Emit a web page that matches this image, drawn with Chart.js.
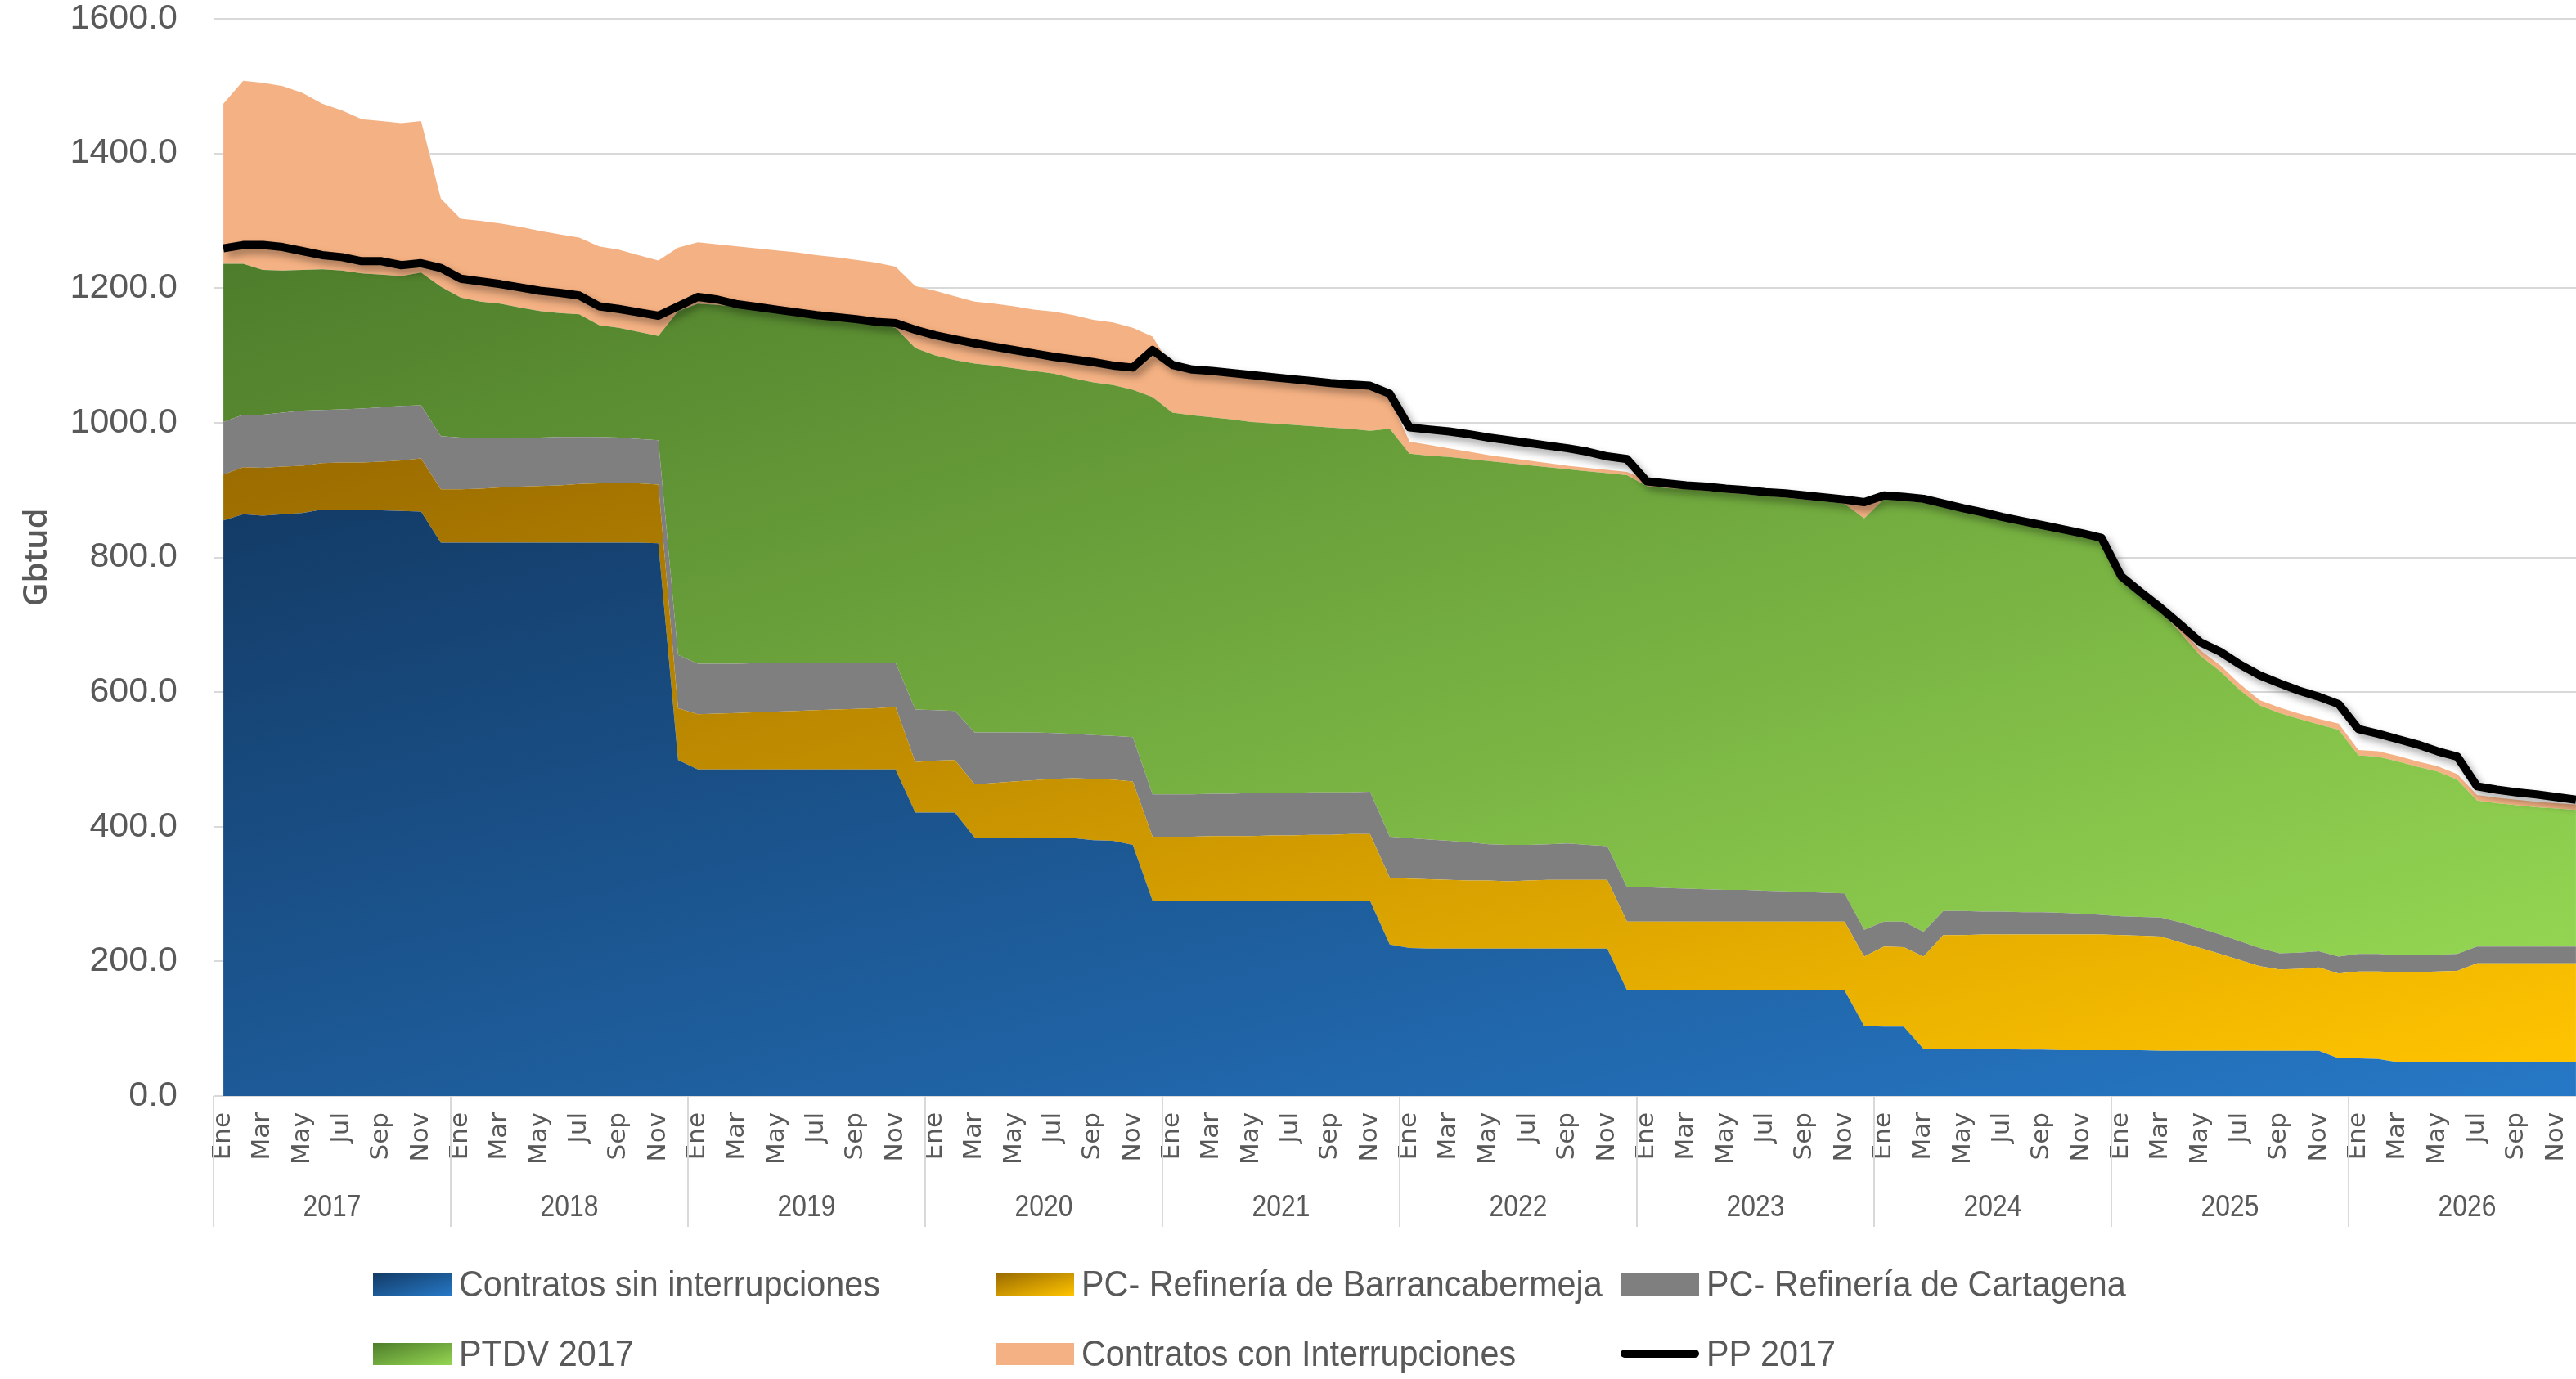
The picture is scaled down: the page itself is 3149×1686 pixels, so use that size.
<!DOCTYPE html>
<html>
<head>
<meta charset="utf-8">
<script src="https://cdn.jsdelivr.net/npm/chart.js@4.4.0/dist/chart.umd.min.js"></script>
<style>
  html, body { margin: 0; padding: 0; overflow: hidden; background: #fff; }
  #wrap { position: relative; width: 3161px; height: 1686px; }
  #legend { position: absolute; left: 0; top: 0; width: 100%; height: 100%; pointer-events: none;
            font-family: 'Liberation Sans Narrow', 'Liberation Sans', sans-serif; font-size: 44px; color: #595959; }
  .item { position: absolute; display: flex; align-items: center; height: 50px; white-space: nowrap; }
  .swatch { width: 96px; height: 27px; margin-right: 9px; flex: none; }
  .lineSw { width: 96px; height: 10px; margin-right: 9px; background: #000; border-radius: 5px; flex: none; }
  .item span { display: inline-block; transform: scaleX(0.94); transform-origin: left center; }
</style>
</head>
<body>
<div id="wrap"><canvas id="chart"></canvas><div id="legend"></div></div>
<script>
// Categories
const years = ['2017', '2018', '2019', '2020', '2021', '2022', '2023', '2024', '2025', '2026'];
const months = ['Ene', 'Feb', 'Mar', 'Abr', 'May', 'Jun', 'Jul', 'Ago', 'Sep', 'Oct', 'Nov', 'Dic'];
const yTicks = [0, 200, 400, 600, 800, 1000, 1200, 1400, 1600];

// Series (Gbtud), one row per year
const contratosSin = [
  855, 864, 862, 864, 866, 871, 871, 870, 870, 869, 868, 822,
  822, 822, 822, 822, 822, 822, 822, 822, 822, 822, 821, 499,
  485, 485, 485, 485, 485, 485, 485, 485, 485, 485, 485, 421,
  421, 421, 384, 384, 384, 384, 384, 383, 380, 379, 373, 290,
  290, 290, 290, 290, 290, 290, 290, 290, 290, 290, 290, 225,
  220, 219, 219, 219, 219, 219, 219, 219, 219, 219, 219, 157,
  157, 157, 157, 157, 157, 157, 157, 157, 157, 157, 157, 104,
  103, 103, 70, 70, 70, 70, 70, 69, 69, 68, 68, 68,
  68, 68, 67, 67, 67, 67, 67, 67, 67, 67, 67, 56,
  56, 55, 50, 50, 50, 50, 50, 50, 50, 50, 50, 50
];
const refBarranca = [
  68, 70, 71, 71, 70, 69, 70, 71, 72, 75, 79, 79,
  79, 80, 82, 83, 84, 85, 87, 88, 89, 88, 87, 77,
  82, 83, 84, 85, 86, 87, 88, 89, 90, 91, 93, 75,
  77, 78, 79, 81, 83, 85, 87, 89, 91, 91, 94, 95,
  95, 95, 96, 96, 96, 97, 97, 98, 98, 99, 99, 99,
  103, 103, 102, 101, 101, 100, 101, 102, 102, 102, 102, 102,
  102, 102, 102, 102, 102, 102, 102, 102, 102, 102, 102, 103,
  119, 118, 137, 169, 169, 170, 170, 171, 171, 172, 172, 172,
  171, 170, 170, 161, 153, 144, 135, 126, 121, 122, 124, 126,
  129, 130, 134, 134, 135, 136, 147, 147, 147, 147, 147, 147
];
const refCartagena = [
  78, 78, 79, 80, 82, 79, 79, 80, 81, 81, 79, 79,
  77, 76, 74, 73, 72, 72, 70, 69, 67, 66, 66, 79,
  75, 74, 73, 73, 72, 71, 70, 70, 69, 68, 66, 78,
  75, 73, 77, 75, 73, 71, 68, 66, 65, 65, 66, 63,
  63, 63, 63, 63, 64, 63, 63, 63, 63, 62, 63, 61,
  60, 59, 58, 57, 54, 54, 53, 53, 54, 52, 50, 51,
  51, 50, 49, 48, 47, 47, 46, 45, 44, 43, 42, 40,
  37, 38, 37, 36, 36, 34, 34, 33, 33, 32, 31, 29,
  28, 28, 28, 30, 29, 29, 28, 27, 24, 24, 24, 25,
  26, 26, 25, 25, 25, 25, 25, 25, 25, 25, 25, 25
];
const ptdv2017 = [
  235, 224, 215, 211, 209, 209, 206, 201, 197, 193, 197, 222,
  208, 202, 199, 193, 188, 184, 182, 166, 163, 159, 155, 511,
  535, 533, 530, 526, 523, 520, 515, 510, 507, 503, 497, 537,
  527, 521, 548, 545, 541, 537, 534, 528, 524, 521, 516, 590,
  567, 563, 559, 556, 551, 549, 547, 544, 542, 540, 536, 606,
  571, 570, 570, 569, 569, 567, 564, 560, 556, 555, 554, 612,
  596, 594, 593, 592, 590, 588, 586, 585, 583, 581, 579, 611,
  628, 625, 637, 599, 593, 588, 581, 576, 570, 565, 560, 555,
  498, 476, 455, 430, 405, 391, 373, 360, 357, 347, 337, 337,
  295, 293, 288, 280, 272, 259, 217, 213, 210, 207, 205, 203
];
const contratosCon = [
  238, 272, 278, 274, 263, 246, 238, 229, 228, 227, 225, 131,
  117, 120, 119, 120, 119, 117, 114, 117, 116, 114, 112, 94,
  91, 90, 90, 90, 90, 90, 91, 92, 91, 91, 91, 92,
  96, 95, 92, 92, 92, 91, 92, 94, 93, 93, 92, 90,
  65, 63, 64, 64, 66, 65, 64, 63, 62, 62, 63, 46,
  18, 16, 13, 11, 9, 8, 7, 6, 5, 5, 5, 5,
  9, 9, 8, 8, 8, 8, 8, 8, 8, 8, 8, 20,
  7, 7, 7, 7, 7, 7, 7, 7, 7, 7, 7, 7,
  5, 6, 7, 7, 8, 9, 9, 8, 8, 8, 8, 9,
  8, 8, 8, 8, 8, 8, 8, 8, 8, 8, 8, 8
];
const pp2017 = [
  1259, 1264, 1264, 1261, 1255, 1249, 1246, 1240, 1240, 1234, 1237, 1230,
  1214, 1210, 1206, 1201, 1196, 1193, 1189, 1173, 1169, 1164, 1159, 1173,
  1187, 1183, 1176, 1172, 1168, 1164, 1160, 1157, 1154, 1150, 1148, 1138,
  1130, 1124, 1118, 1113, 1108, 1103, 1098, 1094, 1090, 1085, 1082, 1108,
  1086, 1079, 1077, 1074, 1071, 1068, 1065, 1062, 1059, 1057, 1055, 1043,
  993, 990, 987, 983, 978, 974, 970, 966, 962, 957, 950, 946,
  913, 910, 907, 905, 902, 900, 897, 895, 892, 889, 886, 882,
  892, 890, 887, 880, 873, 867, 860, 854, 848, 842, 836, 829,
  772, 748, 725, 700, 674, 660, 641, 625, 613, 602, 593, 582,
  545, 538, 530, 522, 512, 504, 460, 455, 451, 448, 444, 440
];

const labels = years.flatMap(() => months);
const stackSeries = [contratosSin, refBarranca, refCartagena, ptdv2017, contratosCon];

// running totals, used only to place each area's gradient
const lower = [], upper = [];
stackSeries.forEach((s, i) => {
  lower[i] = i === 0 ? s.map(() => 0) : upper[i - 1];
  upper[i] = s.map((v, k) => v + lower[i][k]);
});

const textGray = '#595959';
const narrow = "'Liberation Sans Narrow', 'Liberation Sans', sans-serif";

// Excel-like diagonal gradient over the area's bounding box
function diagFill(idx, c0, c1) {
  return function(context) {
    const chart = context.chart;
    const area = chart.chartArea;
    const y = chart.scales.y;
    if (!area || !y) return c1;
    const top = y.getPixelForValue(Math.max(...upper[idx]));
    const bot = y.getPixelForValue(Math.min(...lower[idx]));
    const L = area.left, W = area.width, H = Math.max(bot - top, 1);
    const a = 1 / (2 * W), b = 1 / (2 * H), d = a * a + b * b;
    const g = chart.ctx.createLinearGradient(L, top, L + a / d, top + b / d);
    g.addColorStop(0, c0);
    g.addColorStop(1, c1);
    return g;
  };
}

const areaStyles = [
  { name: 'Contratos sin interrupciones', c0: '#133b66', c1: '#2678c6' },
  { name: 'PC- Refinería de Barrancabermeja', c0: '#9a6b00', c1: '#ffc400' },
  { name: 'PC- Refinería de Cartagena', c0: '#7f7f7f', c1: '#7f7f7f' },
  { name: 'PTDV 2017', c0: '#4e7d2b', c1: '#94d652' },
  { name: 'Contratos con Interrupciones', c0: '#f4b183', c1: '#f4b183' }
];

const datasets = stackSeries.map((s, i) => ({
  label: areaStyles[i].name,
  data: s,
  fill: i === 0 ? 'origin' : '-1',
  backgroundColor: diagFill(i, areaStyles[i].c0, areaStyles[i].c1),
  borderWidth: 0,
  pointRadius: 0,
  tension: 0
}));
datasets.push({
  label: 'PP 2017',
  data: pp2017,
  stack: 'pp',
  order: -1,
  fill: false,
  borderColor: '#000',
  borderWidth: 10,
  borderJoinStyle: 'round',
  pointRadius: 0,
  tension: 0
});

// soft shadow under the PP line
const lineShadow = {
  id: 'lineShadow',
  beforeDatasetDraw(chart, args) {
    if (args.index !== 5) return;
    const ctx = chart.ctx;
    ctx.save();
    ctx.shadowColor = 'rgba(0,0,0,0.35)';
    ctx.shadowBlur = 10;
    ctx.shadowOffsetX = 5;
    ctx.shadowOffsetY = 6;
  },
  afterDatasetDraw(chart, args) {
    if (args.index === 5) chart.ctx.restore();
  }
};

// second level of the category axis: years with separators
const yearAxis = {
  id: 'yearAxis',
  afterDraw(chart) {
    const x = chart.scales.x;
    const ctx = chart.ctx;
    const band = x.getPixelForValue(1) - x.getPixelForValue(0);
    const base = chart.chartArea.bottom;
    ctx.save();
    ctx.strokeStyle = '#d9d9d9';
    ctx.lineWidth = 2;
    ctx.fillStyle = textGray;
    ctx.font = '37px ' + narrow;
    ctx.textAlign = 'center';
    ctx.textBaseline = 'middle';
    years.forEach((yr, k) => {
      const x0 = x.getPixelForValue(k * 12) - band / 2;
      const x1 = x.getPixelForValue(k * 12 + 11) + band / 2;
      ctx.beginPath();
      ctx.moveTo(x0, base);
      ctx.lineTo(x0, base + 160);
      ctx.stroke();
      ctx.save();
      ctx.translate((x0 + x1) / 2, base + 137);
      ctx.scale(0.86, 1);
      ctx.fillText(yr, 0, 0);
      ctx.restore();
    });
    ctx.restore();
  }
};

new Chart(document.getElementById('chart'), {
  type: 'line',
  data: { labels, datasets },
  plugins: [lineShadow, yearAxis],
  options: {
    responsive: true,
    maintainAspectRatio: false,
    animation: false,
    layout: { padding: { top: 23, left: 0, right: 0, bottom: 0 } },
    plugins: {
      legend: { display: false },
      tooltip: { enabled: false }
    },
    scales: {
      x: {
        offset: true,
        grid: { display: false, drawTicks: false, offset: true },
        border: { display: false },
        ticks: {
          autoSkip: false,
          minRotation: 90,
          maxRotation: 90,
          padding: 20,
          color: textGray,
          font: { family: 'DejaVu Sans', size: 31 },
          callback: function(value, index) {
            return index % 2 === 0 ? this.getLabelForValue(value) : '';
          }
        },
        afterFit(scale) {
          scale.height = 346;
          scale.paddingLeft = 0;
          scale.paddingRight = 0;
        }
      },
      y: {
        stacked: true,
        min: yTicks[0],
        max: yTicks[yTicks.length - 1],
        grid: { color: '#d9d9d9', lineWidth: 2, drawTicks: false },
        border: { display: false },
        ticks: {
          stepSize: 200,
          padding: 44,
          color: textGray,
          font: { family: narrow, size: 43 },
          callback: v => v.toFixed(1)
        },
        title: {
          display: true,
          text: 'Gbtud',
          color: textGray,
          font: { family: 'Open Sans', size: 40, weight: '600' },
          padding: { top: 22, bottom: 0 }
        },
        afterFit(scale) {
          scale.width = 261;
          scale.paddingTop = 0;
          scale.paddingBottom = 0;
        }
      }
    }
  }
});

// legend laid out in Excel's fixed columns
const legendCols = [456, 1217, 1981];
const legendRows = [1570, 1655];
const legendEl = document.getElementById('legend');
const legendOrder = [0, 1, 2, 3, 4, 5];
legendOrder.forEach((di, n) => {
  const item = document.createElement('div');
  item.className = 'item';
  item.style.left = legendCols[n % 3] + 'px';
  item.style.top = (legendRows[Math.floor(n / 3)] - 25) + 'px';
  const sw = document.createElement('div');
  if (di === 5) {
    sw.className = 'lineSw';
  } else {
    sw.className = 'swatch';
    const st = areaStyles[di];
    sw.style.background = 'linear-gradient(to bottom right, ' + st.c0 + ', ' + st.c1 + ')';
  }
  const tx = document.createElement('span');
  tx.textContent = datasets[di].label;
  item.appendChild(sw);
  item.appendChild(tx);
  legendEl.appendChild(item);
});
</script>
</body>
</html>
